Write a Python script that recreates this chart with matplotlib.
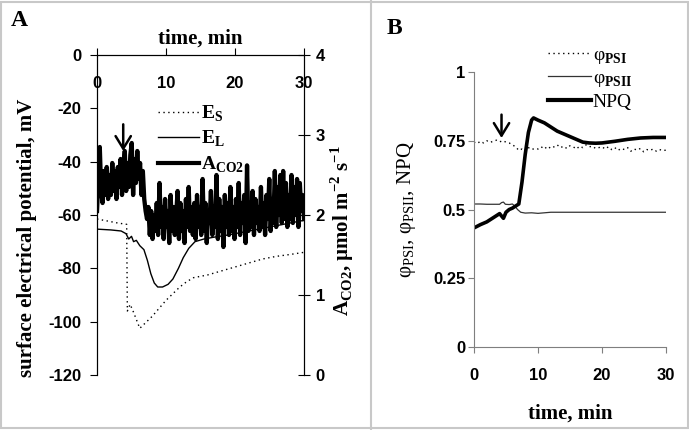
import matplotlib
matplotlib.use("Agg")
import matplotlib.pyplot as plt
import matplotlib.lines as mlines
import numpy as np

# ---- panel A data ----
# surface potential E_S (dotted), mV
es_t = [0, 1, 2, 3, 4.3, 4.4, 4.8, 5.3, 6.2, 7, 8, 9, 10, 11, 12, 13, 14, 16, 18, 20, 22, 24, 26, 28, 30]
es_v = [-61.5, -62, -62.5, -63, -63.5, -96, -93.5, -96.5, -102.5, -100.5, -98, -95, -92, -89.5, -87, -85, -83.5, -82.5,
        -81, -79.5, -78, -76.5, -75.5, -74.8, -74]
# surface potential E_L (thin solid), mV
el_t = [0, 2, 3.5, 4.2, 4.6, 5, 5.3, 5.7, 6.2, 6.8, 7.3, 7.8, 8.3, 8.8, 9.5, 10.3, 11, 11.8, 12.5, 13.3, 14.2, 15.5,
        17, 19, 21, 23, 25, 27, 29, 30]
el_v = [-65.3, -65.6, -66, -67, -69, -68, -70, -69.5, -71.5, -73, -77, -82, -85.5, -87, -87, -86, -84, -80, -76,
        -72.5, -70, -69, -68.3, -67.5, -66.5, -65.5, -64.5, -63.5, -62.5, -62]
# CO2 assimilation, umol m-2 s-1 (one reading every 0.2 min)
aco2 = [2.05, 2.45, 2.85, 2.30, 2.15, 2.55, 2.25, 2.60, 2.20, 2.50, 2.25, 2.65, 2.30, 2.55, 2.20, 2.60, 2.35, 2.70,
        2.25, 2.60, 2.80, 2.30, 2.65, 2.35, 2.75, 2.90, 2.25, 2.70, 2.40, 2.80, 2.45, 2.65, 2.25, 2.55, 2.20, 2.05,
        1.95, 2.10, 1.75, 2.05, 1.70, 2.00, 1.80, 2.15, 1.75, 2.40, 1.85, 2.10, 1.70, 2.20, 1.85, 2.05, 1.65, 2.25,
        1.80, 2.10, 1.75, 2.00, 2.30, 1.70, 2.15, 1.80, 2.05, 1.65, 2.20, 1.85, 2.35, 1.80, 2.10, 1.75, 2.15, 1.70,
        2.25, 1.85, 2.10, 1.75, 2.45, 1.80, 2.15, 1.65, 2.05, 1.90, 2.30, 1.75, 2.10, 1.85, 2.50, 1.70, 2.20, 1.80,
        2.10, 1.60, 2.25, 1.85, 2.15, 1.75, 2.35, 1.80, 2.10, 1.70, 2.20, 1.85, 2.40, 1.75, 2.15, 1.90, 2.25, 1.65,
        2.62, 1.80, 2.15, 1.85, 2.30, 1.75, 2.20, 1.90, 2.10, 1.80, 2.35, 1.85, 2.15, 1.75, 2.25, 1.95, 2.45, 1.80,
        2.20, 1.90, 2.55, 1.85, 2.35, 2.00, 2.50, 1.90, 2.55, 1.95, 2.40, 1.85, 2.25, 1.95, 2.50, 1.90, 2.35, 2.00,
        2.45, 1.85, 2.40, 2.05, 2.25, 1.95]
aco2_t = np.linspace(0, 30, len(aco2))

# ---- panel B data ----
psi_t = np.arange(0, 30.5, 0.5)
psi_v = [0.745, 0.74, 0.748, 0.742, 0.75, 0.744, 0.748, 0.752, 0.746, 0.75, 0.745, 0.742,
         0.735, 0.728, 0.715, 0.72, 0.712, 0.725, 0.718, 0.722, 0.72,
         0.728, 0.72, 0.73, 0.722, 0.728, 0.735, 0.725, 0.73, 0.722, 0.732, 0.728, 0.72, 0.73, 0.725, 0.735,
         0.728, 0.73, 0.722, 0.725, 0.728,
         0.72, 0.728, 0.718, 0.725, 0.715, 0.722, 0.718, 0.725, 0.712, 0.72, 0.716, 0.722, 0.71, 0.718, 0.715,
         0.72, 0.712, 0.718, 0.714, 0.716]
psii_t = [0, 1, 2, 3, 4, 4.3, 4.6, 4.9, 5.5, 6, 6.4, 6.8, 7.3, 8, 9, 10, 11, 12, 15, 20, 25, 30]
psii_v = [0.52, 0.52, 0.519, 0.519, 0.519, 0.525, 0.527, 0.519, 0.518, 0.52, 0.512, 0.50, 0.49, 0.487, 0.488,
          0.486, 0.488, 0.49, 0.49, 0.49, 0.49, 0.49]
npq_t = [0, 1, 2, 3, 4, 4.6, 5, 5.5, 6, 7, 7.5, 8, 8.5, 9, 9.3, 10, 11, 12, 13, 14, 15, 16, 17, 18, 19, 20, 22,
         24, 26, 28, 30]
npq_v = [0.433, 0.445, 0.455, 0.47, 0.485, 0.468, 0.49, 0.5, 0.505, 0.52, 0.6, 0.7, 0.78, 0.825, 0.833, 0.825,
         0.815, 0.80, 0.785, 0.775, 0.765, 0.755, 0.745, 0.742, 0.741, 0.742, 0.748, 0.755, 0.76, 0.762, 0.762]

serif = "Liberation Serif"
sans = "Liberation Sans"
plt.rcParams["mathtext.fontset"] = "custom"
plt.rcParams["mathtext.rm"] = serif
plt.rcParams["mathtext.bf"] = serif + ":bold"
plt.rcParams["axes.unicode_minus"] = False

fig = plt.figure(figsize=(6.89, 4.30), dpi=100)
W, H = 689.0, 430.0

def box(l, t, r, b):
    return [l / W, 1 - b / H, (r - l) / W, (b - t) / H]

arrow_props = dict(arrowstyle="->, head_length=0.9, head_width=0.55", lw=1.8, color="black",
                   shrinkA=0, shrinkB=0)

# ================= panel A =================
ax = fig.add_axes(box(97, 55, 304, 375))
ax.plot(es_t, es_v, color="black", lw=1, ls=(0, (1, 2.5)))
ax.plot(el_t, el_v, color="black", lw=1)
ax.set_xlim(0, 30)
ax.set_ylim(-120, 0)
ax.set_yticks([0, -20, -40, -60, -80, -100, -120])
ax.set_xticks([0, 10, 20, 30])
ax.spines["bottom"].set_visible(False)
ax.xaxis.tick_top()
ax.xaxis.set_label_position("top")
ax.tick_params(axis="x", direction="out", length=5, pad=-31, labelsize=12)
ax.tick_params(axis="y", direction="out", length=5, pad=6, labelsize=12)
for lab in ax.get_xticklabels() + ax.get_yticklabels():
    lab.set_fontfamily(sans)
    lab.set_fontweight("bold")
ax.set_xlabel("time, min", fontfamily=serif, fontweight="bold", fontsize=15, labelpad=3)
ax.set_ylabel("surface electrical potential, mV", fontfamily=serif, fontweight="bold", fontsize=15)
ax.yaxis.set_label_coords(-0.29, 0.43)
ax.annotate("", xy=(3.8, -36), xytext=(3.8, -26), arrowprops=arrow_props)

ax2 = ax.twinx()
ax2.plot(aco2_t, aco2, color="black", lw=3.1)
ax2.set_ylim(0, 4)
ax2.set_yticks([0, 1, 2, 3, 4])
ax2.spines["bottom"].set_visible(False)
ax2.tick_params(axis="y", direction="inout", length=9, pad=4, labelsize=12)
for lab in ax2.get_yticklabels():
    lab.set_fontfamily(sans)
    lab.set_fontweight("bold")
ax2.set_ylabel(r"A$_\mathbf{CO2}$, µmol m$^\mathbf{-2}$ s$^\mathbf{-1}$", fontfamily=serif, fontweight="bold",
               fontsize=15)
ax2.yaxis.set_label_coords(1.12, 0.45)

hA = [mlines.Line2D([], [], color="black", lw=1, ls=(0, (1, 2.5))),
      mlines.Line2D([], [], color="black", lw=1),
      mlines.Line2D([], [], color="black", lw=3)]
ax2.legend(hA, [r"E$_\mathbf{S}$", r"E$_\mathbf{L}$", r"A$_\mathbf{CO2}$"], frameon=False,
           loc="upper left", bbox_to_anchor=(158 / W, 1 - 104 / H), bbox_transform=fig.transFigure,
           handlelength=2.1, handletextpad=0.1, labelspacing=0.25, borderpad=0, borderaxespad=0,
           prop=dict(family=serif, weight="bold", size=14))

# ================= panel B =================
bx = fig.add_axes(box(474, 72, 666, 347))
gray = "#7f7f7f"
bx.plot(psi_t, psi_v, color="black", lw=1, ls=(0, (1, 2.5)))
bx.plot(psii_t, psii_v, color="#333333", lw=0.9)
bx.plot(npq_t, npq_v, color="black", lw=2.6)
bx.set_xlim(0, 30)
bx.set_ylim(0, 1)
bx.set_xticks([0, 10, 20, 30])
bx.set_yticks([0, 0.25, 0.5, 0.75, 1])
bx.set_yticklabels(["0", "0.25", "0.5", "0.75", "1"])
for s in ["top", "right"]:
    bx.spines[s].set_visible(False)
for s in ["left", "bottom"]:
    bx.spines[s].set_color(gray)
bx.tick_params(axis="both", direction="out", length=4, color=gray, labelsize=12)
bx.tick_params(axis="x", pad=11)
bx.tick_params(axis="y", pad=2)
for lab in bx.get_xticklabels() + bx.get_yticklabels():
    lab.set_fontfamily(sans)
    lab.set_fontweight("bold")
bx.set_xlabel("time, min", fontfamily=serif, fontweight="bold", fontsize=15, labelpad=15)
bx.set_ylabel(r"φ$_\mathrm{PSI}$, φ$_\mathrm{PSII}$, NPQ", fontfamily=serif, fontsize=15, labelpad=11)
bx.annotate("", xy=(4.3, 0.76), xytext=(4.3, 0.845), arrowprops=arrow_props)

hB = [mlines.Line2D([], [], color="black", lw=1, ls=(0, (1, 2.5))),
      mlines.Line2D([], [], color="#333333", lw=0.9),
      mlines.Line2D([], [], color="black", lw=3)]
bx.legend(hB, [r"φ$_\mathbf{PSI}$", r"φ$_\mathbf{PSII}$", "NPQ"], frameon=False,
          loc="upper left", bbox_to_anchor=(548 / W, 1 - 46 / H), bbox_transform=fig.transFigure,
          handlelength=2.2, handletextpad=0.1, labelspacing=0.2, borderpad=0, borderaxespad=0,
          prop=dict(family=serif, size=14))

# panel letters and frame
fig.text(11 / W, 1 - 21 / H, "A", fontfamily=serif, fontweight="bold", fontsize=17, va="center", ha="left")
fig.text(387 / W, 1 - 28 / H, "B", fontfamily=serif, fontweight="bold", fontsize=17, va="center", ha="left")
fig.add_artist(plt.Rectangle((0.002, 0.004), 0.996, 0.992, transform=fig.transFigure, fill=False,
                             edgecolor="#c8c8c8", lw=1.5))
fig.add_artist(mlines.Line2D([371 / W, 371 / W], [0, 1], transform=fig.transFigure, color="#c8c8c8", lw=1.5))

fig.savefig("out.png", dpi=100)
